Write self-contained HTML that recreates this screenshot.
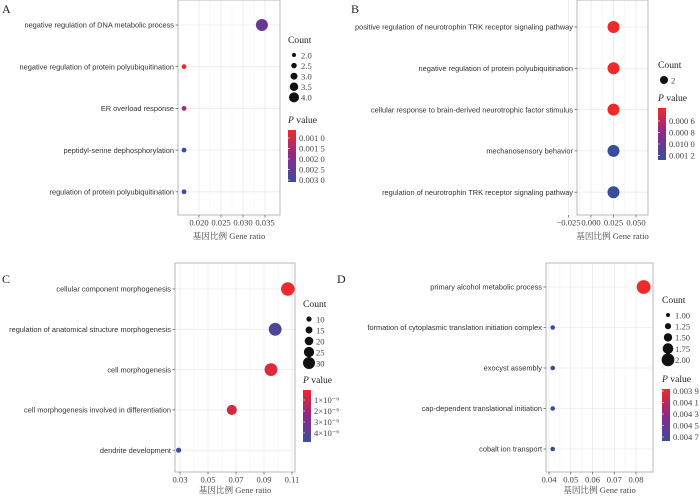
<!DOCTYPE html>
<html><head><meta charset="utf-8"><style>
body{margin:0;background:#fff}
svg{display:block}
.lab{font-family:"Liberation Sans","Noto Sans CJK SC",sans-serif;font-size:7.4px;fill:#333}
.tk{font-family:"Liberation Serif","Noto Serif CJK SC",serif;font-size:8.6px;fill:#444}
.ttl{font-family:"Liberation Serif","Noto Serif CJK SC",serif;font-size:9.6px;fill:#222}
.pl{font-family:"Liberation Serif",serif;font-size:12px;fill:#222}
</style></head><body>
<svg id="c" width="700" height="496" viewBox="0 0 700 496" xmlns="http://www.w3.org/2000/svg">
<defs>
<linearGradient id="pg" x1="0" y1="0" x2="0" y2="1"><stop offset="0" stop-color="#ee2a2a"/><stop offset="0.5" stop-color="#8a2a8a"/><stop offset="1" stop-color="#3a4d9c"/></linearGradient>
</defs>
</svg>
<script>
// Panel A data
const aTerms=["negative regulation of DNA metabolic process","negative regulation of protein polyubiquitination","ER overload response","peptidyl-serine dephosphorylation","regulation of protein polyubiquitination"];
const aRatio=[0.0343,0.0166,0.0166,0.0166,0.0166];
const aCount=[4,2,2,2,2];
const aP=[0.0024,0.0009,0.0017,0.0030,0.0030];
const aTicks=[0.020,0.025,0.030,0.035];
const aTickLabels=["0.020","0.025","0.030","0.035"];
const aCountLegend=["2.0","2.5","3.0","3.5","4.0"];
const aPLegend=["0.001 0","0.001 5","0.002 0","0.002 5","0.003 0"];
// Panel B data
const bTerms=["positive regulation of neurotrophin TRK receptor signaling pathway","negative regulation of protein polyubiquitination","cellular response to brain-derived neurotrophic factor stimulus","mechanosensory behavior","regulation of neurotrophin TRK receptor signaling pathway"];
const bRatio=[0.025,0.025,0.025,0.025,0.025];
const bCount=[2,2,2,2,2];
const bP=[0.0005,0.0005,0.0005,0.0013,0.0013];
const bTicks=[-0.025,0,0.025,0.05];
const bTickLabels=["\u22120.025","0.000","0.025","0.050"];
const bCountLegend=["2"];
const bPLegend=["0.000 6","0.000 8","0.010 0","0.001 2"];
// Panel C data
const cTerms=["cellular component morphogenesis","regulation of anatomical structure morphogenesis","cell morphogenesis","cell morphogenesis involved in differentiation","dendrite development"];
const cRatio=[0.107,0.098,0.095,0.067,0.029];
const cCount=[30,28,28,21,8];
const cP=[0.3e-6,4.3e-6,0.7e-6,0.9e-6,4.8e-6];
const cTicks=[0.03,0.05,0.07,0.09,0.11];
const cTickLabels=["0.03","0.05","0.07","0.09","0.11"];
const cCountLegend=["10","15","20","25","30"];
const cPLegend=["1×10\u207B\u2076","2×10\u207B\u2076","3×10\u207B\u2076","4×10\u207B\u2076"];
// Panel D data
const dTerms=["primary alcohol metabolic process","formation of cytoplasmic translation initiation complex","exocyst assembly","cap-dependent translational initiation","cobalt ion transport"];
const dRatio=[0.0835,0.0417,0.0417,0.0417,0.0417];
const dCount=[2,1,1,1,1];
const dP=[0.0039,0.0048,0.0048,0.0048,0.0048];
const dTicks=[0.04,0.05,0.06,0.07,0.08];
const dTickLabels=["0.04","0.05","0.06","0.07","0.08"];
const dCountLegend=["1.00","1.25","1.50","1.75","2.00"];
const dPLegend=["0.003 9","0.004 1","0.004 3","0.004 5","0.004 7"];

const svg=document.getElementById('c');
const NS="http://www.w3.org/2000/svg";
function mk(tag,at,parent){const e=document.createElementNS(NS,tag);for(const k in at)e.setAttribute(k,at[k]);(parent||svg).appendChild(e);return e;}
function lerp(a,b,t){return Math.round(a+(b-a)*t);}
function pcol(t){t=Math.max(0,Math.min(1,t));const r=[238,138,58],g=[42,42,77],b=[42,138,156];
 let i=t<0.5?0:1,u=t<0.5?t*2:(t-0.5)*2;return `rgb(${lerp(r[i],r[i+1],u)},${lerp(g[i],g[i+1],u)},${lerp(b[i],b[i+1],u)})`;}

function panel(o){
 const g=mk('g',{});
 
 
 const L=o.box[0],T=o.box[1],R=o.box[2],B=o.box[3];
 const xs=v=>o.x0+(v-o.d0)*o.k;
 const ys=i=>o.rowY0+i*o.rowStep;
 const lt=mk('text',{x:o.letter[1],y:o.letter[2],class:'pl'},g);lt.textContent=o.letter[0];
 
 
 for(let i=0;i<o.ticks.length;i++){
  const x=xs(o.ticks[i]);
  mk('line',{x1:x,x2:x,y1:T,y2:B,stroke:'#ebebeb','stroke-width':0.8},g);
  if(i<o.ticks.length-1){const xm=(x+xs(o.ticks[i+1]))/2;mk('line',{x1:xm,x2:xm,y1:T,y2:B,stroke:'#f3f3f3','stroke-width':0.6},g);}
 }
 o.terms.forEach((t,i)=>{mk('line',{x1:L,x2:R,y1:ys(i),y2:ys(i),stroke:'#ebebeb','stroke-width':0.8},g);});
 const box=mk('rect',{x:L,y:T,width:R-L,height:B-T,fill:'none',stroke:'#b8b8b8','stroke-width':1},g);
 
 
 o.ticks.forEach((v,i)=>{const x=xs(v);
  mk('line',{x1:x,x2:x,y1:B,y2:B+2.5,stroke:'#555','stroke-width':0.7},g);
  const t=mk('text',{x:x,y:B+10.5,class:'tk','text-anchor':'middle'},g);t.textContent=o.tickLabels[i];
  
  
 });
 const xt=mk('text',{x:(L+R)/2,y:B+o.titleOff,class:'tk','text-anchor':'middle'},g);xt.textContent='基因比例  Gene ratio';
 
 
 o.terms.forEach((t,i)=>{const y=ys(i);
  mk('line',{x1:L-2.5,x2:L,y1:y,y2:y,stroke:'#555','stroke-width':0.7},g);
  const tx=mk('text',{x:L-4,y:y+2.7,class:'lab','text-anchor':'end'},g);tx.textContent=t;
  
  
  const r=o.rs(o.count[i]);
  const c=mk('circle',{cx:xs(o.ratio[i]),cy:y,r:r,fill:pcol((o.p[i]-o.pmin)/(o.pmax-o.pmin))},g);
  
  
 });
 const lx=o.leg[0];let ly=o.leg[1];
 const ct=mk('text',{x:lx,y:ly,class:'ttl'},g);ct.textContent='Count';
 
 
 o.countLegend.forEach((s,i)=>{const y=ly+12+i*o.legStep;const r=o.lrs(o.countVals[i]);
  mk('circle',{cx:lx+6,cy:y,r:r,fill:'#111'},g);
  const t=mk('text',{x:lx+13,y:y+3.3,class:'tk'},g);t.textContent=s;
  
  
 });
 const py=o.pleg;
 const pt=mk('text',{x:lx,y:py,class:'ttl'},g);pt.innerHTML='<tspan font-style="italic">P</tspan> value';
 
 
 const cb=mk('rect',{x:lx,y:py+7,width:8,height:52,fill:'url(#pg)'},g);
 
 
 o.pLegend.forEach((s,i)=>{const y=py+7+o.pLabY0+i*o.pLabStep;
  mk('line',{x1:lx,x2:lx+2,y1:y,y2:y,stroke:'#fff','stroke-width':0.6},g);
  const t=mk('text',{x:lx+11,y:y+3.2,class:'tk'},g);t.textContent=s;
  
  
 });
}

panel({name:'panel-a',letter:['A',2,13],box:[178,0,280,215],terms:aTerms,ratio:aRatio,count:aCount,p:aP,
 ticks:aTicks,tickLabels:aTickLabels,x0:199,d0:0.020,k:22/0.005,rowY0:25,rowStep:41.7,titleOff:24,
 rs:c=>2.4+(c-2)*1.8,lrs:c=>2+(c-2)*1.5,pmin:0.0009,pmax:0.0030,leg:[288,43],legStep:10.6,countVals:[2,2.5,3,3.5,4],countLegend:aCountLegend,
 pleg:123,pLegend:aPLegend,pLabY0:8,pLabStep:10.5});
panel({name:'panel-b',letter:['B',351,13],box:[577,0,648,215],terms:bTerms,ratio:bRatio,count:bCount,p:bP,
 ticks:bTicks,tickLabels:bTickLabels,x0:591,d0:0,k:900,rowY0:27,rowStep:41.3,titleOff:24,
 rs:c=>6,lrs:c=>4,pmin:0.0005,pmax:0.0013,leg:[658,68],legStep:10,countVals:[2],countLegend:bCountLegend,
 pleg:101,pLegend:bPLegend,pLabY0:13,pLabStep:11.5});
panel({name:'panel-c',letter:['C',2,283],box:[175,263,295,472],terms:cTerms,ratio:cRatio,count:cCount,p:cP,
 ticks:cTicks,tickLabels:cTickLabels,x0:180,d0:0.03,k:28/0.02,rowY0:289,rowStep:40.3,titleOff:21,
 rs:c=>2.6+(c-8)*0.19,lrs:c=>2.6+(c-10)*0.17,pmin:0.3e-6,pmax:4.8e-6,leg:[303,307],legStep:11,countVals:[10,15,20,25,30],countLegend:cCountLegend,
 pleg:383,pLegend:cPLegend,pLabY0:10,pLabStep:11});
panel({name:'panel-d',letter:['D',337,283],box:[546,263,653,472],terms:dTerms,ratio:dRatio,count:dCount,p:dP,
 ticks:dTicks,tickLabels:dTickLabels,x0:549,d0:0.04,k:21.75/0.01,rowY0:287,rowStep:40.5,titleOff:21,
 rs:c=>2.3+(c-1)*4.6,lrs:c=>2+(c-1)*4.4,pmin:0.0039,pmax:0.0048,leg:[662,303],legStep:11.2,countVals:[1,1.25,1.5,1.75,2],countLegend:dCountLegend,
 pleg:382,pLegend:dPLegend,pLabY0:2,pLabStep:11.5});
</script>
</body></html>
